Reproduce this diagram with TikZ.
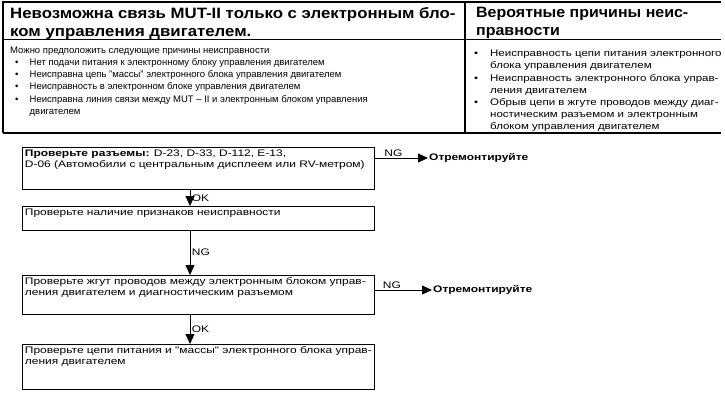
\documentclass[tikz,border=0pt]{standalone}
\usepackage{fontspec}
\setmainfont{Liberation Sans}
\newfontfamily\headAfont[FakeStretch=1.12]{Liberation Sans}
\newfontfamily\headBfont[FakeStretch=1.065]{Liberation Sans}
\newfontfamily\causeBfont[FakeStretch=1.21]{Liberation Sans}
\newfontfamily\flowfont[FakeStretch=1.26]{Liberation Sans}
\usetikzlibrary{arrows.meta, positioning}

% box text, kept at the top of a box of fixed height
\newcommand{\chkbox}[2]{\parbox[t][#1][t]{347pt}{\raggedright #2}}
% bullets for the two columns of the table
\newcommand{\bulA}{\hspace*{5pt}\makebox[14.5pt][l]{\textbullet}}
\newcommand{\contA}{\hspace*{19.5pt}}
\newcommand{\bulB}{\makebox[16pt][l]{\textbullet}}
\newcommand{\contB}{\hspace*{16pt}}

\begin{document}
\begin{tikzpicture}[
    x=1pt, y=-1pt,
    >={Triangle[length=10pt, width=9pt]},
    % Table styles
    frame/.style={line width=1.1pt},
    headtext/.style={anchor=north west, inner sep=0pt, align=left},
    bodytext/.style={anchor=north west, inner sep=0pt, align=left},
    % Flowchart styles
    checkbox/.style={draw, line width=0.8pt, anchor=north west, inner sep=2.5pt, font=\flowfont\fontsize{9.5}{10.5}\selectfont},
    repair/.style={anchor=west, inner sep=1pt, font=\flowfont\fontsize{9.5}{10.5}\selectfont\bfseries},
    answer/.style={font=\flowfont\fontsize{9.5}{10.5}\selectfont, inner sep=1.5pt},
    flow/.style={->, line width=0.8pt},
]
\useasboundingbox (0,0) rectangle (725,394);

% Table frame
\draw[frame] (3,133) -- (3,2) -- (721,2);
\draw[frame] (3,133) -- (721,133);
\draw[line width=1.6pt] (3,39.5) -- (721,39.5);
\draw[frame] (465,2) -- (465,133);

% Table headers
\node[headtext, font=\headAfont\fontsize{15}{18}\selectfont\bfseries] (head1) at (10,7) {Невозможна связь MUT-II только с электронным бло-\\ком управления двигателем.};
\node[headtext, font=\headBfont\fontsize{15}{18}\selectfont\bfseries] (head2) at (476,7) {Вероятные причины неис-\\правности};

% Table body
\node[bodytext, font=\fontsize{9.5}{12.2}\selectfont] (cause1) at (10,46.5) {Можно предположить следующие причины неисправности\\
    \bulA Нет подачи питания к электронному блоку управления двигателем\\
    \bulA Неисправна цепь "массы" электронного блока управления двигателем\\
    \bulA Неисправность в электронном блоке управления двигателем\\
    \bulA Неисправна линия связи между MUT – II и электронным блоком управления\\
    \contA двигателем};
\node[bodytext, font=\causeBfont\fontsize{9.5}{12.2}\selectfont] (cause2) at (474,50) {\bulB Неисправность цепи питания электронного\\
    \contB блока управления двигателем\\
    \bulB Неисправность электронного блока управ-\\
    \contB ления двигателем\\
    \bulB Обрыв цепи в жгуте проводов между диаг-\\
    \contB ностическим разъемом и электронным\\
    \contB блоком управления двигателем};

% Flowchart boxes
\coordinate (spine) at (190,0);
\node[checkbox] (c1) at (22,147) {\chkbox{37pt}{\textbf{Проверьте разъемы:} D-23, D-33, D-112, E-13,\\D-06 (Автомобили с центральным дисплеем или RV-метром)}};
\node[checkbox] (c2) at (22,206) {\chkbox{18.5pt}{Проверьте наличие признаков неисправности}};
\node[checkbox] (c3) at (22,275) {\chkbox{34pt}{Проверьте жгут проводов между электронным блоком управ-\\ления двигателем и диагностическим разъемом}};
\node[checkbox] (c4) at (22,344) {\chkbox{40pt}{Проверьте цепи питания и "массы" электронного блока управ-\\ления двигателем}};

% Repair outcomes
\node[repair] (fix1) at (428,158) {Отремонтируйте};
\node[repair] (fix2) at (432,290) {Отремонтируйте};

% Arrows - main flow
\draw[flow] (c1.south -| spine) -- node[answer, right]{OK} (c2.north -| spine);
\draw[flow] (c2.south -| spine) -- node[answer, right]{NG} (c3.north -| spine);
\draw[flow] (c3.south -| spine) -- node[answer, right]{OK} (c4.north -| spine);

% Arrows - NG branches
\draw[flow] (c1.east |- fix1) -- node[answer, above, pos=0.35]{NG} (fix1.west);
\draw[flow] (c3.east |- fix2) -- node[answer, above, pos=0.3]{NG} (fix2.west);

\end{tikzpicture}
\end{document}
